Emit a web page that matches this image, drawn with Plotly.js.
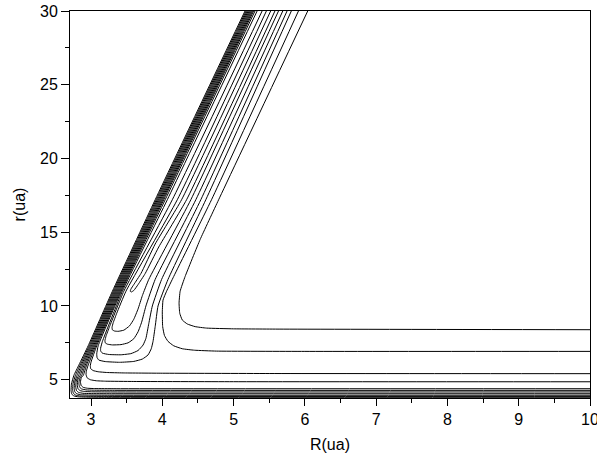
<!DOCTYPE html>
<html>
<head>
<meta charset="utf-8">
<script src="https://cdn.plot.ly/plotly-3.0.1.min.js"></script>
<style>html,body{margin:0;padding:0;background:#fff;}#chart{width:597px;height:465px;}</style>
</head>
<body>
<div id="chart"></div>
<script>
// Contour lines: R (ua) and r (ua) coordinates
// Repulsive-wall lines (wrap around the lower-left corner into the bottom lines)
const W1_R = [5.16, 3.90, 3.30, 2.96, 2.83, 2.76, 2.725, 2.72, 2.73, 2.76, 2.82, 2.92, 3.22, 10];
const W1_r = [30, 17.2, 11, 7.3, 6.0, 5.3, 4.7, 4.26, 4.02, 3.90, 3.84, 3.82, 3.81, 3.81];
const W2_R = [5.175, 3.915, 3.314, 2.975, 2.848, 2.782, 2.748, 2.742, 2.752, 2.782, 2.842, 2.942, 3.242, 10];
const W2_r = [30, 17.2, 11, 7.3, 6.0, 5.3, 4.75, 4.32, 4.08, 3.96, 3.90, 3.88, 3.87, 3.87];
const W3_R = [5.19, 3.93, 3.328, 2.99, 2.866, 2.804, 2.77, 2.764, 2.774, 2.804, 2.864, 2.964, 3.264, 10];
const W3_r = [30, 17.2, 11, 7.3, 6.0, 5.3, 4.82, 4.40, 4.16, 4.04, 3.98, 3.96, 3.95, 3.95];
const W4_R = [5.205, 3.945, 3.342, 3.005, 2.884, 2.826, 2.792, 2.786, 2.796, 2.826, 2.886, 2.986, 3.286, 10];
const W4_r = [30, 17.2, 11, 7.3, 6.0, 5.3, 4.9, 4.50, 4.26, 4.14, 4.08, 4.06, 4.05, 4.05];
const W5_R = [5.22, 3.96, 3.356, 3.02, 2.902, 2.848, 2.814, 2.808, 2.818, 2.848, 2.908, 3.008, 3.308, 10];
const W5_r = [30, 17.2, 11, 7.3, 6.0, 5.3, 5.0, 4.62, 4.38, 4.26, 4.20, 4.18, 4.17, 4.17];
const W6_R = [5.235, 3.975, 3.37, 3.035, 2.92, 2.87, 2.838, 2.83, 2.84, 2.87, 2.93, 3.03, 3.33, 10];
const W6_r = [30, 17.2, 11, 7.3, 6.0, 5.3, 5.05, 4.73, 4.49, 4.37, 4.31, 4.29, 4.28, 4.28];
const W7_R = [5.25, 3.99, 3.384, 3.05, 2.938, 2.892, 2.862, 2.852, 2.862, 2.892, 2.952, 3.052, 3.352, 10];
const W7_r = [30, 17.2, 11, 7.3, 6.0, 5.3, 5.12, 4.84, 4.60, 4.48, 4.42, 4.40, 4.39, 4.39];
// Lines that run up the wall and out along r = 4.86 and r = 5.41
const H1_R = [5.265, 4.005, 3.398, 3.065, 2.96, 2.935, 2.93, 2.945, 2.99, 3.07, 3.2, 3.6, 5, 10];
const H1_r = [30, 17.2, 11, 7.3, 6.0, 5.6, 5.35, 5.13, 5.0, 4.93, 4.90, 4.88, 4.865, 4.86];
const H2_R = [5.28, 4.02, 3.412, 3.08, 3.00, 2.99, 2.995, 3.03, 3.10, 3.22, 3.45, 4.0, 5.5, 10];
const H2_r = [30, 17.2, 11, 7.3, 6.2, 5.95, 5.75, 5.62, 5.54, 5.49, 5.46, 5.44, 5.42, 5.41];
// Hairpin / U contours in the diagonal valley
const Va_R = [5.52, 4.27, 3.90, 3.70, 3.60, 3.56, 3.55, 3.565, 3.60, 3.66, 3.76, 3.95, 4.34, 5.58];
const Va_r = [30, 17.2, 14.2, 12.2, 11.45, 11.15, 11.0, 10.95, 11.05, 11.45, 12.2, 14.0, 17.2, 30];
const Vb_R = [5.46, 4.21, 3.49, 3.36, 3.31, 3.295, 3.30, 3.33, 3.38, 3.46, 3.54, 3.60, 3.66, 3.72, 3.81, 4.40, 5.63];
const Vb_r = [30, 17.2, 11, 9.5, 8.85, 8.55, 8.38, 8.30, 8.28, 8.36, 8.65, 9.1, 9.8, 10.7, 11.8, 17.2, 30];
const Vc_R = [5.40, 4.14, 3.46, 3.26, 3.21, 3.195, 3.20, 3.23, 3.30, 3.42, 3.52, 3.60, 3.66, 3.71, 3.77, 3.90, 4.47, 5.69];
const Vc_r = [30, 17.2, 11, 8.6, 7.95, 7.65, 7.50, 7.41, 7.36, 7.38, 7.50, 7.78, 8.25, 8.9, 10.0, 11.8, 17.2, 30];
const Vd_R = [5.33, 4.07, 3.44, 3.16, 3.135, 3.135, 3.16, 3.25, 3.42, 3.56, 3.66, 3.73, 3.77, 3.81, 3.86, 3.99, 4.54, 5.75];
const Vd_r = [30, 17.2, 11, 7.6, 7.15, 6.95, 6.80, 6.71, 6.69, 6.77, 6.98, 7.35, 7.8, 8.8, 10.0, 11.8, 17.2, 30];
const Ve_R = [5.30, 4.04, 3.425, 3.10, 3.08, 3.085, 3.11, 3.20, 3.40, 3.60, 3.72, 3.80, 3.845, 3.87, 3.90, 3.94, 4.08, 4.61, 5.81];
const Ve_r = [30, 17.2, 11, 7.3, 6.75, 6.5, 6.33, 6.23, 6.18, 6.24, 6.40, 6.68, 7.1, 7.6, 8.6, 10.0, 11.8, 17.2, 30];
// L-shaped contours bordering the plateau
const L2_R = [5.91, 4.69, 4.16, 4.06, 4.01, 4.00, 4.005, 4.03, 4.08, 4.16, 4.28, 4.45, 4.76, 6, 10];
const L2_r = [30, 17.2, 12.0, 11.0, 10.4, 9.6, 8.6, 8.0, 7.6, 7.3, 7.10, 7.00, 6.94, 6.92, 6.92];
const L1_R = [6.04, 4.79, 4.53, 4.32, 4.25, 4.235, 4.245, 4.28, 4.35, 4.46, 4.62, 5.0, 5.65, 10];
const L1_r = [30, 17.2, 14.5, 12.0, 11.0, 10.2, 9.5, 9.05, 8.78, 8.60, 8.50, 8.45, 8.43, 8.39];

const lines = [
  [W1_R, W1_r], [W2_R, W2_r], [W3_R, W3_r], [W4_R, W4_r], [W5_R, W5_r], [W6_R, W6_r], [W7_R, W7_r],
  [H1_R, H1_r], [H2_R, H2_r],
  [Va_R, Va_r], [Vb_R, Vb_r], [Vc_R, Vc_r], [Vd_R, Vd_r], [Ve_R, Ve_r],
  [L2_R, L2_r], [L1_R, L1_r]
];

const traces = lines.map(function (p) {
  return {
    x: p[0], y: p[1], type: 'scatter', mode: 'lines',
    line: {color: '#000000', width: 1, shape: 'spline', smoothing: 0.4},
    hoverinfo: 'skip', showlegend: false
  };
});

const fontFam = 'Liberation Sans, Arial, sans-serif';
const layout = {
  width: 597, height: 465,
  margin: {l: 70, r: 7, t: 11, b: 67},
  paper_bgcolor: '#ffffff', plot_bgcolor: '#ffffff',
  showlegend: false,
  font: {family: fontFam, size: 16, color: '#000000'},
  xaxis: {
    range: [2.705, 10], tick0: 0, dtick: 1, ticks: 'outside', ticklen: 7, tickwidth: 1, tickcolor: '#000',
    ticklabeloverflow: 'allow',
    showline: true, linecolor: '#000', linewidth: 1, mirror: true, showgrid: false, zeroline: false,
    minor: {dtick: 0.5, tick0: 0, ticks: 'outside', ticklen: 4, tickcolor: '#000', showgrid: false},
    tickfont: {family: fontFam, size: 16, color: '#000'},
    title: {text: 'R(ua)', font: {family: fontFam, size: 16, color: '#000'}, standoff: 11}
  },
  yaxis: {
    range: [3.76, 30], tick0: 0, dtick: 5, ticks: 'outside', ticklen: 8, tickwidth: 1, tickcolor: '#000',
    ticklabeloverflow: 'allow',
    showline: true, linecolor: '#000', linewidth: 1, mirror: true, showgrid: false, zeroline: false,
    minor: {dtick: 2.5, tick0: 0, ticks: 'outside', ticklen: 4, tickcolor: '#000', showgrid: false},
    tickfont: {family: fontFam, size: 16, color: '#000'},
    title: {text: 'r(ua)', font: {family: fontFam, size: 16, color: '#000'}, standoff: 10}
  }
};

Plotly.newPlot('chart', traces, layout, {staticPlot: true, displayModeBar: false});
</script>
</body>
</html>
